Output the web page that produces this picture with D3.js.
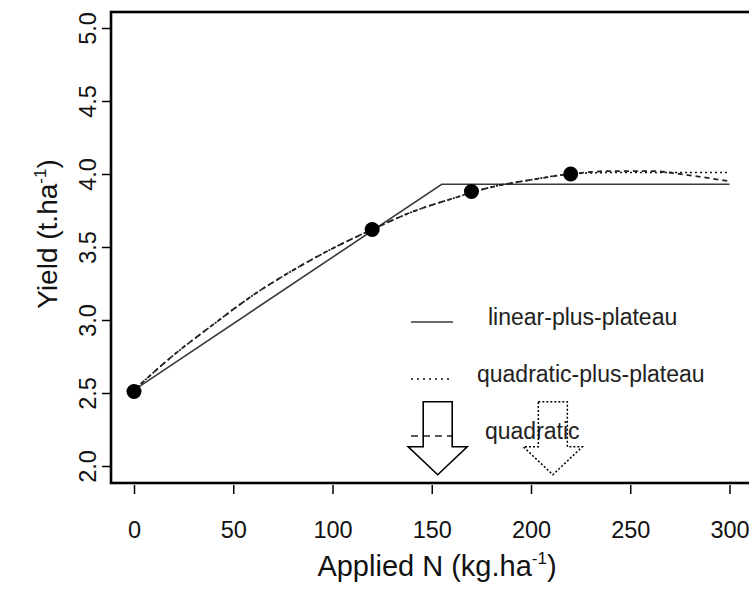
<!DOCTYPE html>
<html>
  <head>
    <meta charset="utf-8">
    <title>Yield response to applied N</title>
    <script src="https://d3js.org/d3.v7.min.js"></script>
    <style>
      body { margin: 0; background: white; }
      svg { font-family: 'Liberation Sans', Arial, sans-serif; }
    </style>
  </head>
  <body>
    <script>

// observed yields
var obsN = [0, 120, 170, 220];
var obsYield = [2.51, 3.62, 3.88, 4.00];

// linear-plus-plateau fit
var lppN = [0, 155, 300];
var lppYield = [2.52, 3.93, 3.93];

// quadratic fit
var quadN = [0, 20, 40, 60, 80, 100, 120, 140, 160, 180, 200, 220, 240, 260, 280, 300];
var quadYield = [2.52, 2.76, 2.97, 3.17, 3.34, 3.49, 3.62, 3.74, 3.83, 3.91, 3.96, 4.00, 4.02, 4.02, 3.99, 3.95];

// quadratic-plus-plateau fit (dotted curve)
var qppN = [0, 20, 40, 60, 80, 100, 120, 140, 160, 180, 200, 220, 240, 260, 280, 300];
var qppYield = [2.52, 2.76, 2.97, 3.17, 3.34, 3.49, 3.62, 3.74, 3.83, 3.91, 3.96, 4.00, 4.01, 4.01, 4.01, 4.01];

// optimum N rates marked by the arrows
var optN = [153, 211];

var xTicks = [0, 50, 100, 150, 200, 250, 300];
var yTicks = [2.0, 2.5, 3.0, 3.5, 4.0, 4.5, 5.0];
var legendLabels = ["linear-plus-plateau", "quadratic-plus-plateau", "quadratic"];

var W = 749, H = 591;

var svg = d3.select("body").append("svg").attr("width", W).attr("height", H);

var x = d3.scaleLinear().domain([0, 300]).range([134, 729.5]);
var y = d3.scaleLinear().domain([2, 5]).range([466, 28]);

// box
svg.append("rect")
  .attr("x", 111).attr("y", 12)
  .attr("width", 660).attr("height", 471)
  .attr("fill", "none").attr("stroke", "black").attr("stroke-width", 2.6);

// x axis (ticks hang under the box)
var xAxis = svg.append("g")
  .attr("transform", "translate(0,485)")
  .call(d3.axisBottom(x).tickValues(xTicks).tickSize(9).tickPadding(27).tickFormat(d3.format("d")));
xAxis.select(".domain").remove();
xAxis.selectAll("line").attr("stroke", "black").attr("stroke-width", 1.5);
xAxis.selectAll("text").attr("font-size", 23.5).attr("fill", "#111").attr("font-family", null);

// y axis
var yAxis = svg.append("g")
  .attr("transform", "translate(111,0)")
  .call(d3.axisLeft(y).tickValues(yTicks).tickSize(9).tickFormat(d3.format(".1f")));
yAxis.select(".domain").remove();
yAxis.selectAll("line").attr("stroke", "black").attr("stroke-width", 1.5);
yAxis.selectAll("text")
  .attr("font-size", 23.5).attr("fill", "#111").attr("font-family", null)
  .attr("text-anchor", "middle")
  .attr("x", 0).attr("y", -15).attr("dy", 0)
  .attr("transform", "rotate(-90)");

// axis titles
var xt = svg.append("text")
  .attr("x", 437).attr("y", 576)
  .attr("text-anchor", "middle").attr("font-size", 29).attr("fill", "#111")
  .text("Applied N (kg.ha");
xt.append("tspan").attr("font-size", 17).attr("dy", -12).text("-1");
xt.append("tspan").attr("dy", 12).text(")");

var yt = svg.append("text")
  .attr("transform", "translate(57,234) rotate(-90)")
  .attr("text-anchor", "middle").attr("font-size", 28).attr("fill", "#111")
  .text("Yield (t.ha");
yt.append("tspan").attr("font-size", 17).attr("dy", -11).text("-1");
yt.append("tspan").attr("dy", 11).text(")");

// fitted curves
var line = d3.line().x(function(d){return x(d[0]);}).y(function(d){return y(d[1]);});
var smooth = d3.line().x(function(d){return x(d[0]);}).y(function(d){return y(d[1]);}).curve(d3.curveMonotoneX);

svg.append("path")
  .datum(d3.zip(lppN, lppYield))
  .attr("d", line)
  .attr("fill", "none").attr("stroke", "#3a3a3a").attr("stroke-width", 1.6);

svg.append("path")
  .datum(d3.zip(qppN, qppYield))
  .attr("d", smooth)
  .attr("fill", "none").attr("stroke", "#111").attr("stroke-width", 1.6)
  .attr("stroke-dasharray", "2,3");

svg.append("path")
  .datum(d3.zip(quadN, quadYield))
  .attr("d", smooth)
  .attr("fill", "none").attr("stroke", "#222").attr("stroke-width", 1.8)
  .attr("stroke-dasharray", "5,4");

// observed points
svg.selectAll("circle.obs").data(d3.zip(obsN, obsYield)).enter().append("circle")
  .attr("class", "obs")
  .attr("cx", function(d){return x(d[0]);})
  .attr("cy", function(d){return y(d[1]);})
  .attr("r", 7.5)
  .attr("fill", "black");

// legend
var legStyles = [
  {dash: null, stroke: "#3a3a3a", tx: 488},
  {dash: "2,4", stroke: "#111", tx: 477},
  {dash: "7,5", stroke: "#222", tx: 485}
];
var legRows = [322, 379, 436];
legendLabels.forEach(function(lab, i){
  svg.append("line")
    .attr("x1", 411).attr("x2", 453)
    .attr("y1", legRows[i]).attr("y2", legRows[i])
    .attr("stroke", legStyles[i].stroke).attr("stroke-width", 1.5)
    .attr("stroke-dasharray", legStyles[i].dash);
  svg.append("text")
    .attr("x", legStyles[i].tx).attr("y", legRows[i]).attr("dy", "0.12em")
    .attr("font-size", 23).attr("fill", "#222")
    .text(lab);
});

// arrows at the optimum N rates
var tipY = y(1.94);
function arrowPath(cx){
  var p = d3.path();
  p.moveTo(cx - 14.5, tipY - 73);
  p.lineTo(cx + 14.5, tipY - 73);
  p.lineTo(cx + 14.5, tipY - 28);
  p.lineTo(cx + 29.5, tipY - 28);
  p.lineTo(cx, tipY);
  p.lineTo(cx - 29.5, tipY - 28);
  p.lineTo(cx - 14.5, tipY - 28);
  p.closePath();
  return p.toString();
}
svg.selectAll("path.arrow").data(optN).enter().append("path")
  .attr("class", "arrow")
  .attr("d", function(d){return arrowPath(x(d));})
  .attr("fill", "none")
  .attr("stroke", "black")
  .attr("stroke-width", function(d,i){return i == 0 ? 1.6 : 1.5;})
  .attr("stroke-dasharray", function(d,i){return i == 0 ? null : "2,2";});

    </script>
  </body>
</html>
